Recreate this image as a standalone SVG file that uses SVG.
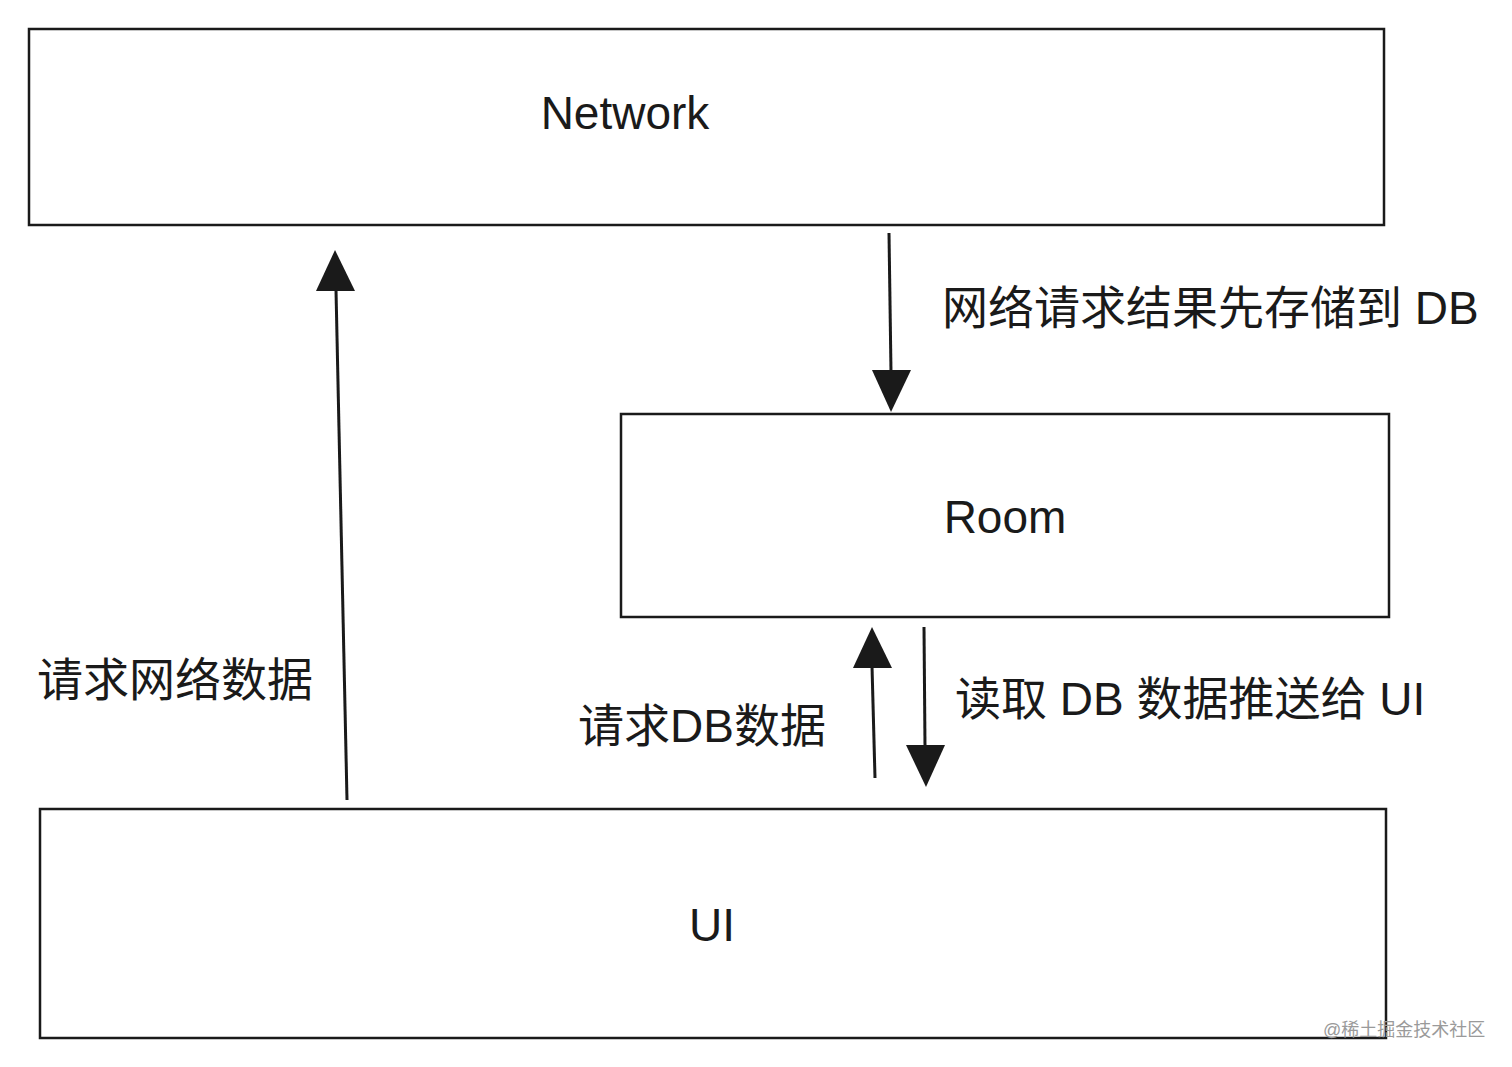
<svg xmlns="http://www.w3.org/2000/svg" width="1512" height="1067" viewBox="0 0 1512 1067">
<style>
.box{fill:#fff;stroke:#1a1a1a;stroke-width:2.5}
.lbl{font-family:"Liberation Sans","Noto Sans CJK SC",sans-serif;font-size:46px;fill:#1a1a1a}
.c{text-anchor:middle}
.ln{stroke:#1a1a1a;stroke-width:3;fill:none}
.hd{fill:#1a1a1a}
.wm{font-family:"Liberation Sans","Noto Sans CJK SC",sans-serif;font-size:18px;fill:#9a9a9a}
</style>
<rect width="1512" height="1067" fill="#fff"/>
<g id="network"><rect class="box" x="29" y="29" width="1355" height="196"/><text class="lbl c" x="625" y="129">Network</text></g>
<g id="room"><rect class="box" x="621" y="414" width="768" height="203"/><text class="lbl c" x="1005" y="533">Room</text></g>
<g id="ui"><rect class="box" x="40" y="809" width="1346" height="229"/><text class="lbl c" x="712" y="941">UI</text></g>
<g id="connectors">
<line class="ln" x1="347" y1="800" x2="336" y2="290"/>
<polygon class="hd" points="335,250 316,291 355,291"/>
<line class="ln" x1="889" y1="233" x2="891" y2="372"/>
<polygon class="hd" points="891,412 872,370 911,370"/>
<line class="ln" x1="875" y1="778" x2="872" y2="666"/>
<polygon class="hd" points="872,627 853,668 892,668"/>
<line class="ln" x1="924" y1="627" x2="925" y2="747"/>
<polygon class="hd" points="926,787 906,745 945,745"/>
</g>
<g id="labels">
<text class="lbl" x="942" y="324">网络请求结果先存储到 DB</text>
<text class="lbl" x="37" y="696">请求网络数据</text>
<text class="lbl" x="578" y="742">请求DB数据</text>
<text class="lbl" x="955" y="715">读取 DB 数据推送给 UI</text>
</g>
<text class="wm" x="1323" y="1036">@稀土掘金技术社区</text>
</svg>
